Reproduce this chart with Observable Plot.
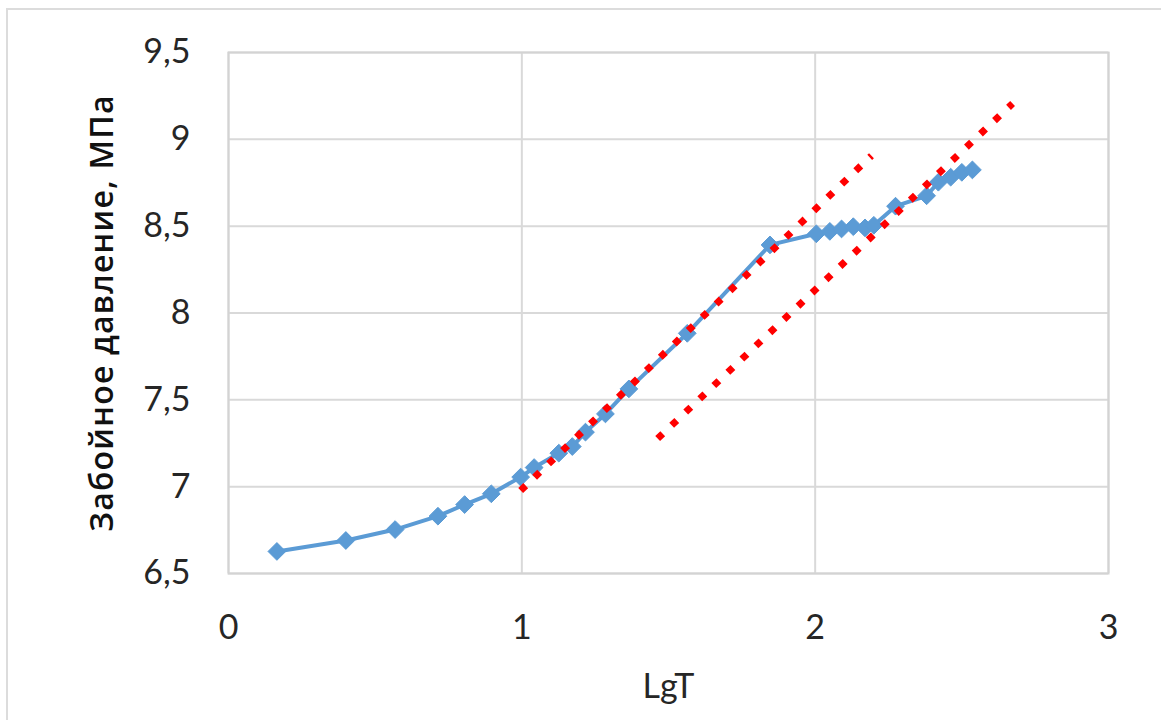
<!DOCTYPE html>
<html>
<head>
<meta charset="utf-8">
<script src="https://cdn.jsdelivr.net/npm/d3@7"></script>
<script src="https://cdn.jsdelivr.net/npm/@observablehq/plot@0.6"></script>
<style>
  html, body { margin: 0; padding: 0; background: #fff; overflow: hidden; }
  #wrap { position: relative; width: 1161px; height: 720px; }
  #border { position: absolute; left: 6px; top: 8px; width: 1160px; height: 720px; border: 2px solid #dcdcdc; box-sizing: border-box; }
  #chart { position: absolute; left: 0; top: 0; }
</style>
</head>
<body>
<div id="wrap"><div id="border"></div><div id="chart"></div></div>
<script>
// Measured series: LgT vs bottom-hole pressure (MPa)
const lgT = [0.165, 0.40, 0.568, 0.714, 0.805, 0.896, 0.996, 1.042, 1.126, 1.172, 1.217, 1.285, 1.365, 1.564, 1.846, 2.004, 2.05, 2.09, 2.13, 2.17, 2.20, 2.274, 2.38, 2.42, 2.462, 2.50, 2.536];
const pressure = [6.627, 6.69, 6.753, 6.83, 6.897, 6.959, 7.055, 7.110, 7.193, 7.231, 7.314, 7.419, 7.563, 7.883, 8.392, 8.456, 8.47, 8.484, 8.497, 8.49, 8.505, 8.615, 8.675, 8.753, 8.782, 8.81, 8.824];

// Straight (tangent) lines, dotted red
const line1X = [0.996, 2.192];
const line1Y = [6.978, 8.906];
const line2X = [1.463, 2.673];
const line2Y = [7.277, 9.206];

const xTicks = [0, 1, 2, 3];
const yTicks = [6.5, 7, 7.5, 8, 8.5, 9, 9.5];
const xTitle = "LgT";
const yTitle = "Забойное давление, МПа";

const series = lgT.map((x, i) => ({x, y: pressure[i]}));
const l1 = line1X.map((x, i) => ({x, y: line1Y[i]}));
const l2 = line2X.map((x, i) => ({x, y: line2Y[i]}));

const fmt = d => String(d).replace(".", ",");

const plot = Plot.plot({
  width: 1161,
  height: 720,
  marginLeft: 228,
  marginRight: 53,
  marginTop: 52,
  marginBottom: 147,
  style: {fontFamily: "Lato, 'Noto Sans', sans-serif", fontSize: "34px", color: "#262626", background: "transparent"},
  x: {domain: [0, 3]},
  y: {domain: [6.5, 9.5]},
  marks: [
    Plot.gridX(xTicks, {stroke: "#d9d9d9", strokeOpacity: 1, strokeWidth: 2}),
    Plot.gridY(yTicks, {stroke: "#d9d9d9", strokeOpacity: 1, strokeWidth: 2}),
    Plot.frame({stroke: "#d3d3d3", strokeWidth: 2}),
    Plot.axisX(xTicks, {tickSize: 0, tickPadding: 41, fontSize: 34, label: null, tickFormat: fmt}),
    Plot.axisY(yTicks, {tickSize: 0, tickPadding: 38, fontSize: 34, label: null, tickFormat: fmt}),
    Plot.text([xTitle], {frameAnchor: "bottom", dy: 114, lineAnchor: "middle", fontSize: 34, fill: "#262626"}),
    Plot.text([yTitle], {frameAnchor: "left", dx: -126, rotate: -90, lineAnchor: "middle", textAnchor: "middle", fontSize: 32, fontWeight: 600, fontFamily: "'Open Sans', 'Noto Sans', sans-serif", fill: "#111", className: "ytitle"}),
    Plot.line(series, {x: "x", y: "y", stroke: "#5b9bd5", strokeWidth: 4}),
    Plot.dot(series, {x: "x", y: "y", symbol: "diamond2", r: 8, fill: "#5b9bd5", stroke: "#5b9bd5", strokeWidth: 1}),
    Plot.line(l1, {x: "x", y: "y", stroke: "#ff0000", strokeWidth: 7, strokeDasharray: "7,12.3", strokeLinecap: "butt"}),
    Plot.line(l2, {x: "x", y: "y", stroke: "#ff0000", strokeWidth: 7, strokeDasharray: "7,12.3", strokeLinecap: "butt"})
  ]
});
d3.select(plot).selectAll(".ytitle text").attr("letter-spacing", "1.2px");
document.getElementById("chart").appendChild(plot);
</script>
</body>
</html>
